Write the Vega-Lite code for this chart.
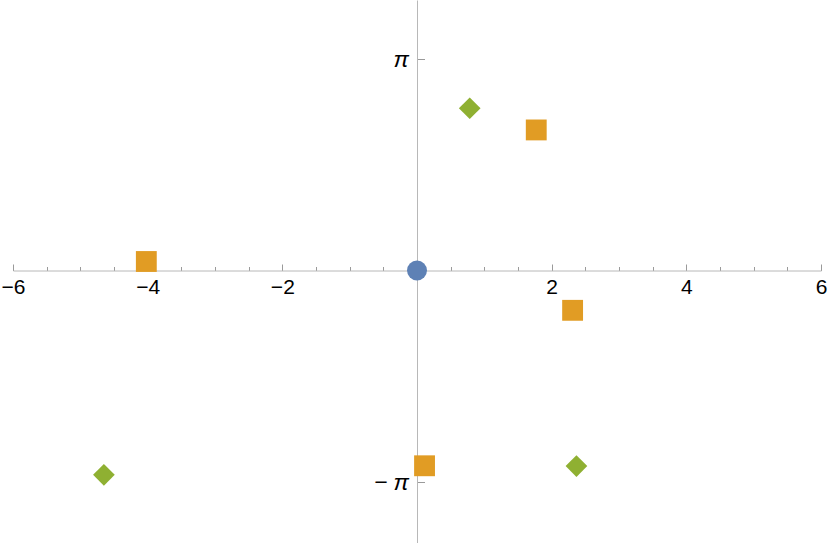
{
  "$schema": "https://vega.github.io/schema/vega-lite/v6.json",
  "width": 808,
  "height": 543,
  "autosize": {"type": "none"},
  "padding": {"left": 13, "right": 9, "top": 0, "bottom": 0},
  "background": "white",
  "config": {"view": {"stroke": null}, "axis": {"grid": false}},
  "data": {
    "values": [
      {"series": "a", "x": 0, "y": 0},
      {"series": "b", "x": 1.771, "y": 2.088},
      {"series": "b", "x": -4.02, "y": 0.134},
      {"series": "b", "x": 2.311, "y": -0.591},
      {"series": "b", "x": 0.112, "y": -2.9},
      {"series": "c", "x": 0.783, "y": 2.41},
      {"series": "c", "x": 2.368, "y": -2.905},
      {"series": "c", "x": -4.65, "y": -3.034}
    ]
  },
  "mark": {"type": "point", "filled": true, "opacity": 1, "strokeWidth": 0},
  "encoding": {
    "x": {
      "field": "x",
      "type": "quantitative",
      "scale": {"domain": [-6, 6], "nice": false, "zero": false},
      "axis": {
        "title": null,
        "orient": "bottom",
        "offset": -272.5,
        "values": [-6, -5.5, -5, -4.5, -4, -3.5, -3, -2.5, -2, -1.5, -1, -0.5, 0, 0.5, 1, 1.5, 2, 2.5, 3, 3.5, 4, 4.5, 5, 5.5, 6],
        "tickSize": {"condition": {"test": "datum.value % 2 === 0", "value": -6.5}, "value": -4},
        "tickColor": "#9a9a9a",
        "tickWidth": 1,
        "domainColor": "#b8b8b8",
        "domainWidth": 1,
        "labelExpr": "datum.value % 2 === 0 && datum.value !== 0 ? (datum.value < 0 ? '−' + abs(datum.value) : '' + datum.value) : ''",
        "labelFont": "Liberation Sans",
        "labelFontSize": 21,
        "labelColor": "black",
        "labelPadding": 12,
        "labelFlush": false,
        "labelOverlap": false,
        "labelBound": false,
        "labelBaseline": "top"
      }
    },
    "y": {
      "field": "y",
      "type": "quantitative",
      "scale": {"domain": [-4.047, 4.018], "nice": false, "zero": false},
      "axis": {
        "title": null,
        "orient": "left",
        "offset": -404,
        "values": [-3.14159265, 3.14159265],
        "tickSize": -7.5,
        "tickColor": "#9a9a9a",
        "tickWidth": 1,
        "domainColor": "#b8b8b8",
        "domainWidth": 1,
        "labelExpr": "datum.value > 0 ? 'π' : '− π'",
        "labelFont": "Liberation Sans",
        "labelFontSize": 23,
        "labelFontStyle": "italic",
        "labelColor": "black",
        "labelPadding": 16,
        "labelFlush": false,
        "labelOverlap": false,
        "labelBound": false
      }
    },
    "color": {
      "field": "series",
      "type": "nominal",
      "scale": {"domain": ["a", "b", "c"], "range": ["#5E81B5", "#E19C24", "#8FB032"]},
      "legend": null
    },
    "shape": {
      "field": "series",
      "type": "nominal",
      "scale": {"domain": ["a", "b", "c"], "range": ["circle", "square", "diamond"]},
      "legend": null
    },
    "size": {
      "field": "series",
      "type": "nominal",
      "scale": {"domain": ["a", "b", "c"], "range": [400, 470, 500]},
      "legend": null
    }
  }
}
